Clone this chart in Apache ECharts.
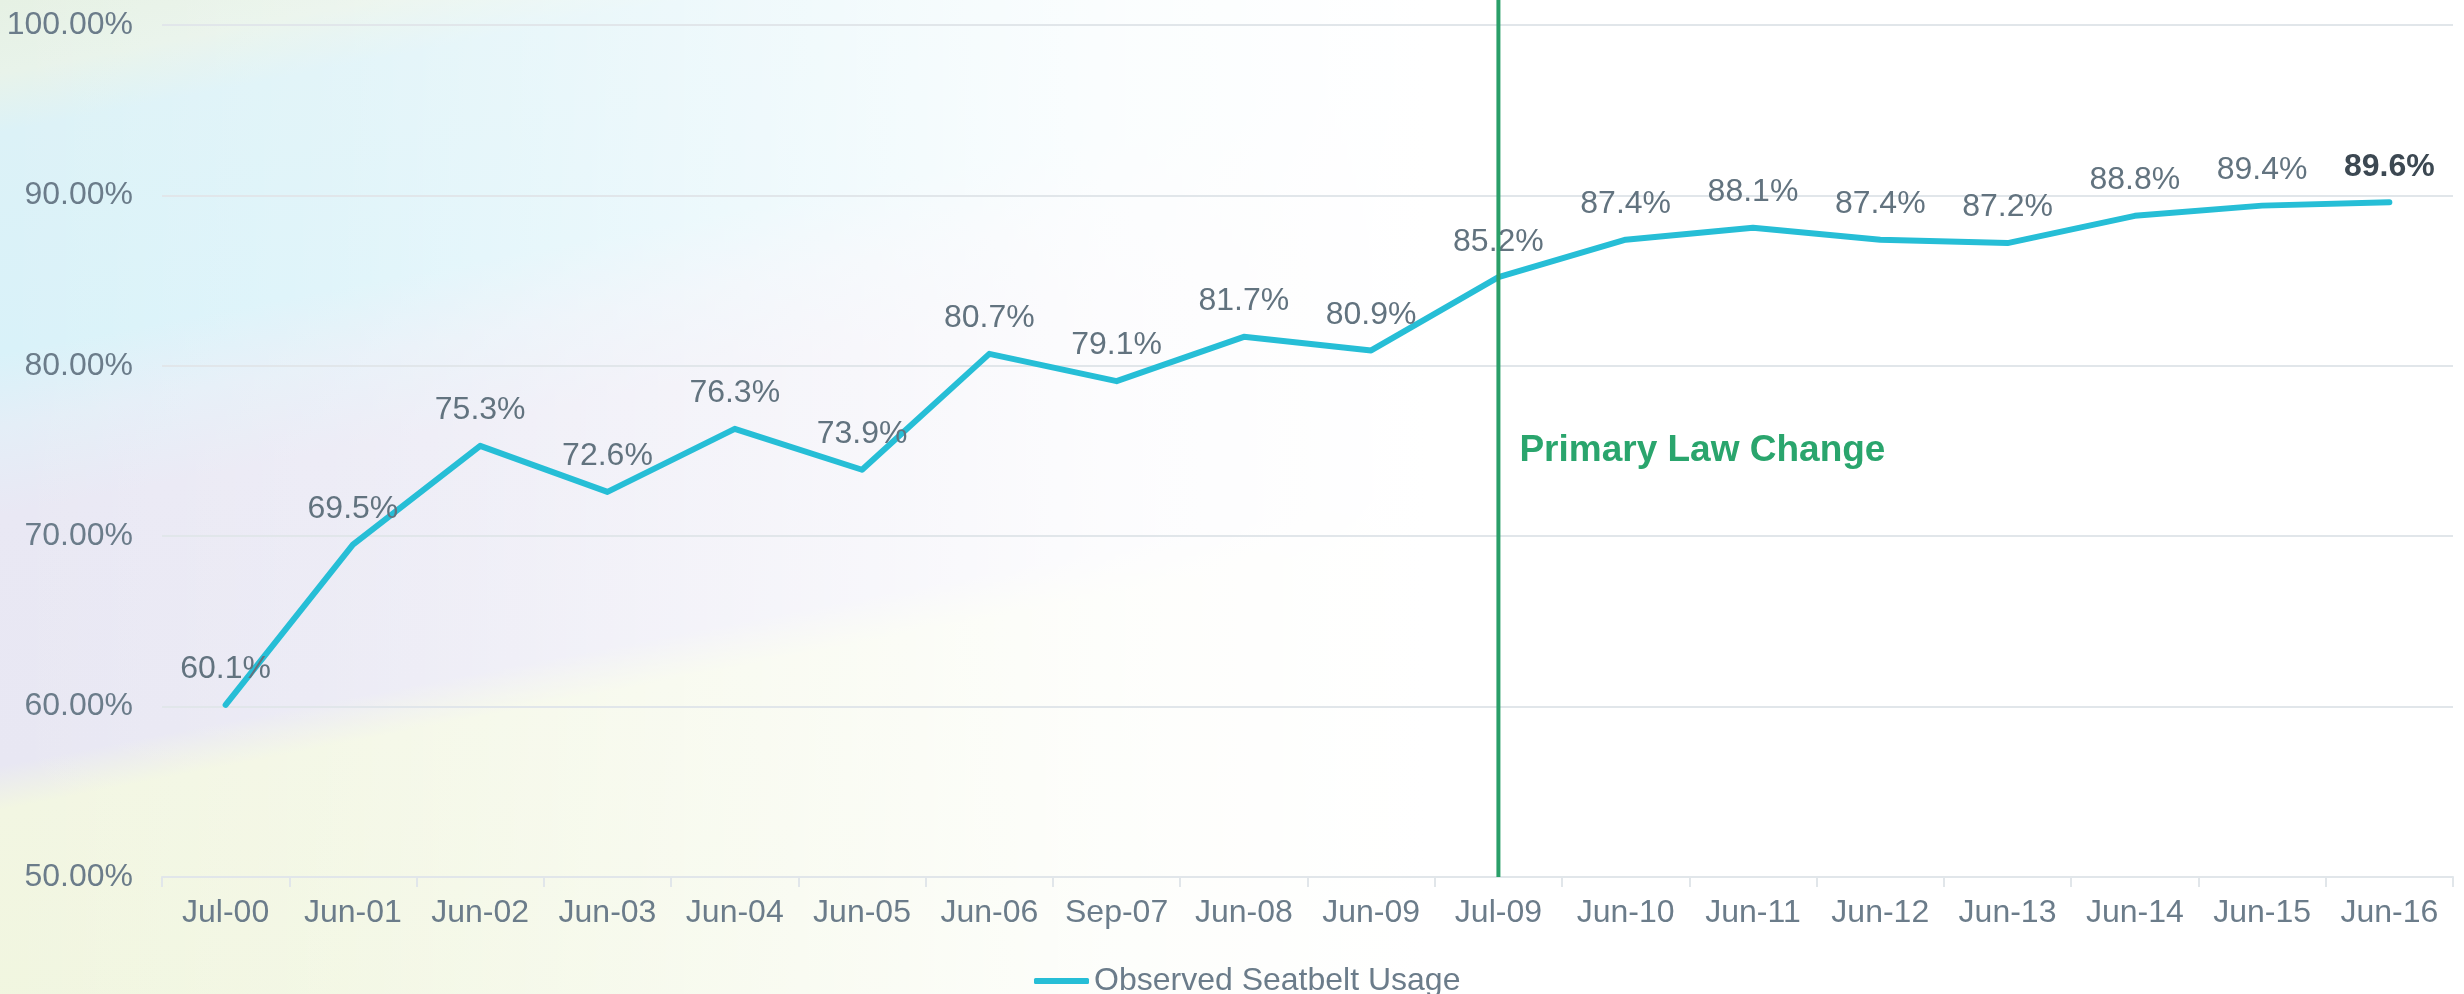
<!DOCTYPE html>
<html>
<head>
<meta charset="utf-8">
<script src="https://cdn.jsdelivr.net/npm/echarts@6/dist/echarts.min.js"></script>
<style>
  html, body { margin: 0; padding: 0; }
  #wrap {
    position: relative;
    width: 2464px;
    height: 994px;
    background:
      linear-gradient(to right, rgba(255,255,255,0) 0%, rgba(255,255,255,0.2) 14%, rgba(255,255,255,0.55) 30%, rgba(255,255,255,0.88) 45%, #fff 58%),
      linear-gradient(169deg, #e6f1e4 0%, #e8f3ea 5%, #dcf2f7 9%, #d9f2f9 24%, #e4eef7 29%, #e9e8f4 35%, #e8e7f3 52%, #f2f6e2 55%, #eef5da 100%);
  }
  #chart { width: 2464px; height: 994px; }
</style>
</head>
<body>
<div id="wrap"><div id="chart"></div></div>
<script>
// 数据
const categories = ['Jul-00', 'Jun-01', 'Jun-02', 'Jun-03', 'Jun-04', 'Jun-05', 'Jun-06', 'Sep-07', 'Jun-08',
  'Jun-09', 'Jul-09', 'Jun-10', 'Jun-11', 'Jun-12', 'Jun-13', 'Jun-14', 'Jun-15', 'Jun-16']
const usage = [60.1, 69.5, 75.3, 72.6, 76.3, 73.9, 80.7, 79.1, 81.7, 80.9, 85.2, 87.4, 88.1, 87.4, 87.2, 88.8, 89.4, 89.6]
const seriesName = 'Observed Seatbelt Usage'
const lawChangeAt = 'Jul-09'
const lawChangeText = 'Primary Law Change'
const lawChangeTextValue = 75

const font = '"Liberation Sans", Arial, sans-serif'
const labelColor = '#6b7c8a'
const gridColor = '#e1e6ea'

const chart = echarts.init(document.getElementById('chart'))

const option = {
  animation: false,
  textStyle: { fontFamily: font },
  grid: { left: 162, right: 11, top: 25, bottom: 117 },
  legend: {
    data: [seriesName],
    left: 1029,
    top: 960,
    icon: 'roundRect',
    itemWidth: 55,
    itemHeight: 6,
    textStyle: { fontSize: 32, color: labelColor, fontFamily: font }
  },
  xAxis: {
    type: 'category',
    data: categories,
    boundaryGap: true,
    axisLine: { lineStyle: { color: gridColor, width: 2 } },
    axisTick: { show: true, length: 10, lineStyle: { color: gridColor, width: 2 } },
    axisLabel: { fontSize: 32, color: labelColor, margin: 20, interval: 0 }
  },
  yAxis: {
    type: 'value',
    min: 50,
    max: 100,
    interval: 10,
    axisLine: { show: false },
    axisTick: { show: false },
    splitLine: { lineStyle: { color: gridColor, width: 2 } },
    axisLabel: {
      fontSize: 32,
      color: labelColor,
      margin: 29,
      formatter: (v) => v.toFixed(2) + '%'
    }
  },
  series: [
    {
      name: seriesName,
      type: 'line',
      data: usage.map((v, i) => {
        // 最后一个点加粗
        if (i === usage.length - 1) {
          return { value: v, label: { fontWeight: 'bold', color: '#3c4852' } }
        }
        return v
      }),
      symbol: 'circle',
      symbolSize: 1,
      showSymbol: true,
      color: '#26bed6',
      lineStyle: { width: 6, color: '#26bed6', cap: 'round', join: 'round' },
      label: {
        show: true,
        position: 'top',
        distance: 19,
        fontSize: 32,
        color: '#62737f',
        formatter: (p) => p.value.toFixed(1) + '%'
      },
      z: 2
    }
  ]
}

chart.setOption(option)

// 法律变更竖线和标注
const lineX = chart.convertToPixel({ xAxisIndex: 0 }, lawChangeAt)
const lineBottom = chart.convertToPixel({ yAxisIndex: 0 }, 50)
const textY = chart.convertToPixel({ yAxisIndex: 0 }, lawChangeTextValue)

chart.setOption({
  graphic: [
    {
      type: 'line',
      z: 100,
      shape: { x1: lineX, y1: 0, x2: lineX, y2: lineBottom },
      style: { stroke: '#2a9f69', lineWidth: 4 }
    },
    {
      type: 'text',
      z: 100,
      x: lineX + 21,
      y: textY,
      style: {
        text: lawChangeText,
        fill: '#2aa56d',
        font: 'bold 37px ' + font,
        verticalAlign: 'middle'
      }
    }
  ]
})
</script>
</body>
</html>
